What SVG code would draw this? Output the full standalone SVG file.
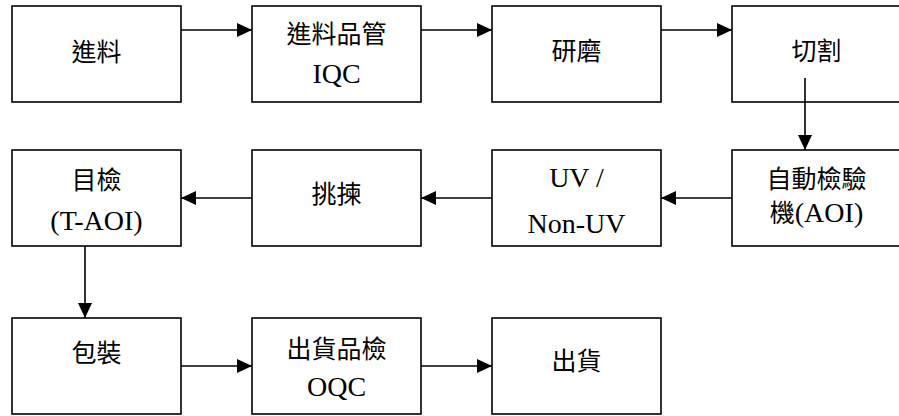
<svg xmlns="http://www.w3.org/2000/svg" width="899" height="416" viewBox="0 0 899 416">
<style>
.box{fill:#fff;stroke:#000;stroke-width:1.6}
.t{font-family:"Liberation Serif","Noto Sans CJK TC",serif;fill:#000;text-anchor:middle}
.c{font-size:25px}
.l{font-size:28px}
.con line{stroke:#000;stroke-width:1.6}
</style>
<defs>
<marker id="ah" markerUnits="userSpaceOnUse" markerWidth="16" markerHeight="15" refX="15" refY="7" orient="auto" viewBox="0 0 16 15">
<path d="M0,0 L15,7 L0,14 z" fill="#000"/>
</marker>
</defs>
<rect width="899" height="416" fill="#fff"/>
<g id="n1"><rect class="box" x="12" y="6" width="169" height="96"/><text class="t c" x="96.5" y="61">進料</text></g>
<g id="n2"><rect class="box" x="252" y="6" width="169" height="96"/><text class="t c" x="336.5" y="43">進料品管</text><text class="t l" x="336.5" y="83">IQC</text></g>
<g id="n3"><rect class="box" x="492" y="6" width="169" height="96"/><text class="t c" x="576.5" y="60">研磨</text></g>
<g id="n4"><rect class="box" x="732" y="6" width="169" height="96"/><text class="t c" x="816.5" y="60">切割</text></g>
<g id="n5"><rect class="box" x="732" y="150" width="169" height="96"/><text class="t c" x="816.5" y="188">自動檢驗</text><text class="t" x="816.5" y="222"><tspan class="c">機</tspan><tspan class="l">(AOI)</tspan></text></g>
<g id="n6"><rect class="box" x="492" y="150" width="169" height="96"/><text class="t l" x="576.5" y="187">UV /</text><text class="t l" x="576.5" y="233">Non-UV</text></g>
<g id="n7"><rect class="box" x="252" y="150" width="169" height="96"/><text class="t c" x="336.5" y="203">挑揀</text></g>
<g id="n8"><rect class="box" x="12" y="150" width="169" height="96"/><text class="t c" x="96.5" y="189">目檢</text><text class="t l" x="96.5" y="230">(T-AOI)</text></g>
<g id="n9"><rect class="box" x="12" y="318" width="169" height="96"/><text class="t c" x="96.5" y="362">包裝</text></g>
<g id="n10"><rect class="box" x="252" y="318" width="169" height="96"/><text class="t c" x="336.5" y="358">出貨品檢</text><text class="t l" x="336.5" y="396">OQC</text></g>
<g id="n11"><rect class="box" x="492" y="318" width="169" height="96"/><text class="t c" x="576.5" y="370">出貨</text></g>
<g id="connectors" class="con">
<line x1="181" y1="30" x2="252" y2="30" marker-end="url(#ah)"/>
<line x1="421" y1="30" x2="492" y2="30" marker-end="url(#ah)"/>
<line x1="661" y1="30" x2="732" y2="30" marker-end="url(#ah)"/>
<line x1="805" y1="78" x2="805" y2="150" marker-end="url(#ah)"/>
<line x1="732" y1="198" x2="661" y2="198" marker-end="url(#ah)"/>
<line x1="492" y1="198" x2="421" y2="198" marker-end="url(#ah)"/>
<line x1="252" y1="198" x2="181" y2="198" marker-end="url(#ah)"/>
<line x1="85" y1="246" x2="85" y2="318" marker-end="url(#ah)"/>
<line x1="181" y1="366" x2="252" y2="366" marker-end="url(#ah)"/>
<line x1="421" y1="366" x2="492" y2="366" marker-end="url(#ah)"/>
</g>
</svg>
